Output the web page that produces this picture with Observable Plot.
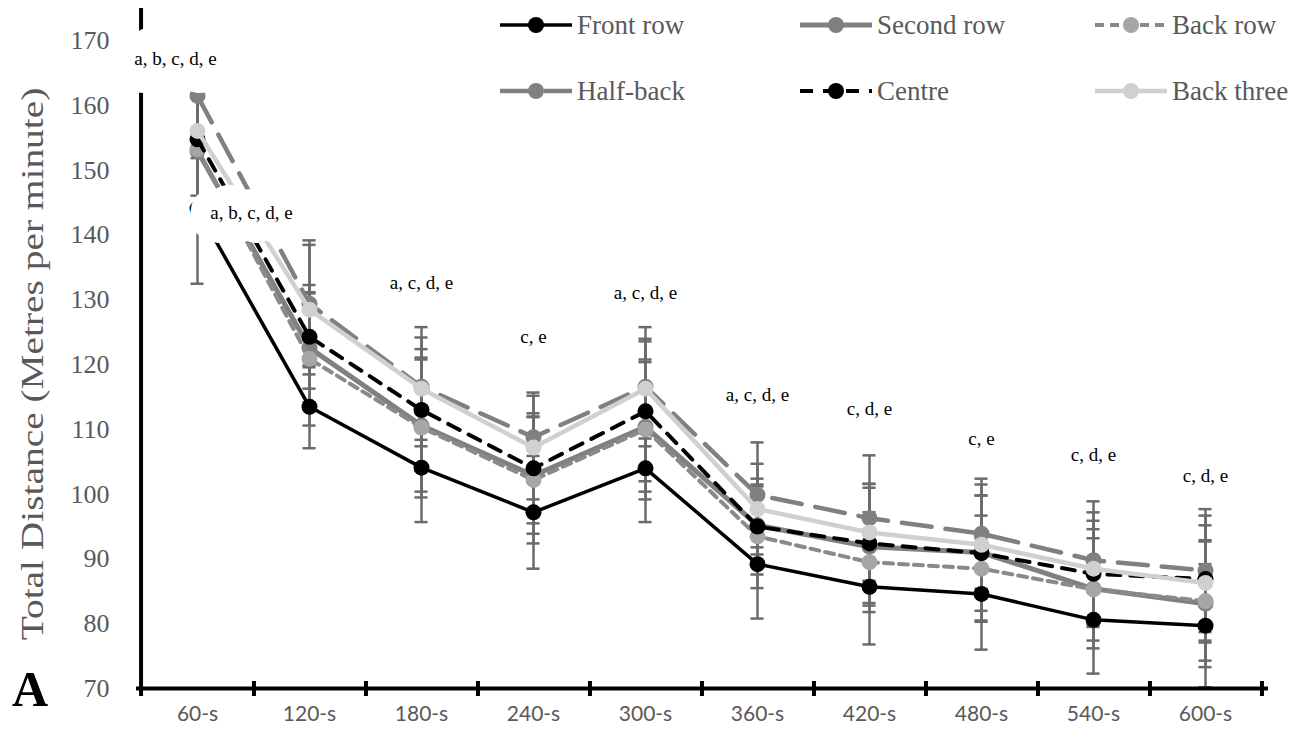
<!DOCTYPE html>
<html>
<head>
<meta charset="utf-8">
<script src="https://cdn.jsdelivr.net/npm/d3@7"></script>
<script src="https://cdn.jsdelivr.net/npm/@observablehq/plot@0.6"></script>
<style>
  body { margin: 0; background: #fff; }
  #wrap { position: relative; width: 1300px; height: 736px; overflow: hidden; background: #fff; }
  #chart { position: absolute; left: 0; top: 0; }
  .lg { position: absolute; display: flex; align-items: center; font-family: "Liberation Serif", serif; font-size: 27px; color: #595959; white-space: nowrap; }
  .lg svg { margin-right: 5px; }
  #ytitle { position: absolute; left: 33px; top: 364px; transform: translate(-50%, -50%) rotate(-90deg) scaleX(1.27); font-family: "Liberation Serif", serif; font-size: 31px; color: #595959; white-space: nowrap; }
  #panel { position: absolute; left: 12px; top: 664px; font-family: "Liberation Serif", serif; font-weight: bold; font-size: 50px; line-height: 1; color: #000; }
</style>
</head>
<body>
<div id="wrap">
  <div id="chart"></div>
  <div id="ytitle">Total Distance (Metres per minute)</div>
  <div id="panel">A</div>
</div>
<script>
// ---------- data ----------
const categories = ["60-s","120-s","180-s","240-s","300-s","360-s","420-s","480-s","540-s","600-s"];
const yTicks = [70,80,90,100,110,120,130,140,150,160,170];

const frontRow     = [144.1,113.5,104.1, 97.2,104.0, 89.2, 85.7, 84.6, 80.6, 79.7];
const frontRowSD   = [ 11.6,  6.4,  8.4,  8.7,  8.3,  8.4,  8.9,  8.6,  8.3,  9.5];
const secondRow    = [153.0,122.6,110.6,102.9,110.4, 95.2, 91.9, 91.0, 85.4, 83.1];
const secondRowSD  = [  9.0,  8.4, 10.2,  9.0, 10.0,  6.0,  9.1, 10.5,  9.2,  9.8];
const backRow      = [153.3,120.9,110.3,102.2,110.0, 93.5, 89.5, 88.5, 85.3, 83.5];
const backRowSD    = [ 10.0, 10.3, 10.8,  9.8, 10.8,  8.0,  7.7,  8.2,  7.9,  9.2];
const halfBack     = [161.5,129.4,116.6,108.8,116.6, 99.9, 96.3, 93.9, 89.8, 88.2];
const halfBackSD   = [  9.6,  9.8,  9.2,  6.9,  9.2,  8.1,  9.7,  8.5,  9.1,  9.5];
const centre       = [154.8,124.3,113.0,104.0,112.8, 95.0, 92.4, 90.9, 87.7, 86.9];
const centreSD     = [ 10.5,  8.0,  9.4,  8.5, 10.8,  7.4,  9.2,  8.9,  8.2,  9.8];
const backThree    = [156.1,128.5,116.3,107.2,116.3, 97.7, 94.1, 92.2, 88.5, 86.3];
const backThreeSD  = [ 10.0, 10.0,  7.9,  8.0,  7.7,  7.0,  7.5,  7.6,  8.7,  8.9];

const seriesNames = ["Front row","Second row","Back row","Half-back","Centre","Back three"];

// significance annotations
const labelCats  = ["60-s","120-s","180-s","240-s","300-s","360-s","420-s","480-s","540-s","600-s"];
const labelTexts = ["a, b, c, d, e","a, b, c, d, e","a, c, d, e","c, e","a, c, d, e","a, c, d, e","c, d, e","c, e","c, d, e","c, d, e"];
const labelY     = [167.2, 143.5, 132.7, 124.3, 131.1, 115.4, 113.1, 108.6, 106.0, 102.9];

// ---------- styles ----------
const styles = {
  "Front row":  {stroke: "#000000", width: 3.5, dash: null,    fill: "#000000"},
  "Second row": {stroke: "#808080", width: 5,   dash: null,    fill: "#808080"},
  "Back row":   {stroke: "#8a8a8a", width: 4,   dash: "9,6",   fill: "#a6a6a6"},
  "Half-back":  {stroke: "#808080", width: 4.5, dash: "30,14", fill: "#808080"},
  "Centre":     {stroke: "#000000", width: 4,   dash: "13,10", fill: "#000000"},
  "Back three": {stroke: "#d0d0d0", width: 4.5, dash: null,    fill: "#d0d0d0"}
};
const errColor = "#6b6b6b";

// ---------- build table ----------
const seriesValues = [frontRow, secondRow, backRow, halfBack, centre, backThree];
const seriesSD = [frontRowSD, secondRowSD, backRowSD, halfBackSD, centreSD, backThreeSD];
const rows = seriesNames.flatMap((name, s) =>
  categories.map((c, i) => ({series: name, cat: c, v: seriesValues[s][i], sd: seriesSD[s][i]})));
const labels = labelCats.map((c, i) => ({cat: c, y: labelY[i], text: labelTexts[i]}));

const W = 1300, H = 736, mL = 136, mR = 35, mT = 8, mB = 48;
const bw = (W - mL - mR) / categories.length;
const capInset = (bw - 14) / 2;
const serif = "Liberation Serif";

const marks = [
  Plot.ruleX(rows, {x: "cat", y1: d => d.v - d.sd, y2: d => d.v + d.sd, stroke: errColor, strokeWidth: 2.5}),
  Plot.tickY(rows, {x: "cat", y: d => d.v + d.sd, stroke: errColor, strokeWidth: 2.5, insetLeft: capInset, insetRight: capInset}),
  Plot.tickY(rows, {x: "cat", y: d => d.v - d.sd, stroke: errColor, strokeWidth: 2.5, insetLeft: capInset, insetRight: capInset})
];
for (const name of seriesNames) {
  const st = styles[name];
  const data = rows.filter(d => d.series === name);
  marks.push(Plot.line(data, {x: "cat", y: "v", stroke: st.stroke, strokeWidth: st.width, strokeDasharray: st.dash, strokeLinejoin: "round"}));
  marks.push(Plot.dot(data, {x: "cat", y: "v", r: 8, fill: st.fill, stroke: "none"}));
}
marks.push(
  Plot.ruleY([yTicks[0]], {stroke: "#000", strokeWidth: 4, insetRight: -3}),
  Plot.axisX({tickFormat: () => "", tickSize: 15, dy: -7, dx: bw / 2, strokeWidth: 4, color: "#000", label: null}),
  Plot.ruleX([categories[0]], {x: d => d, dx: -bw / 2, stroke: "#000", strokeWidth: 4, insetBottom: -8}),
  Plot.text(labels.slice(2), {x: "cat", y: "y", text: "text", fontSize: 19, fontFamily: serif, fill: "#000"}),
  Plot.text(labels.slice(0, 1), {x: "cat", y: "y", text: "text", dx: -22, fontSize: 19, fontFamily: serif, fill: "#000", stroke: "#fff", strokeWidth: 50, strokeLinejoin: "round"}),
  Plot.text(labels.slice(1, 2), {x: "cat", y: "y", text: "text", dx: -58, fontSize: 19, fontFamily: serif, fill: "#000", stroke: "#fff", strokeWidth: 42, strokeLinejoin: "round"}),
  Plot.text(categories, {x: d => d, text: d => d, frameAnchor: "bottom", dy: 32, fontSize: 21, fontFamily: "Lato", fill: "#595959"}),
  Plot.text(yTicks, {y: d => d, text: d => String(d), frameAnchor: "left", dx: -27, textAnchor: "end", fontSize: 26, fontFamily: serif, fill: "#595959"})
);

const chart = Plot.plot({
  width: W, height: H,
  marginLeft: mL, marginRight: mR, marginTop: mT, marginBottom: mB,
  style: {background: "#fff", overflow: "visible", fontFamily: serif},
  x: {type: "band", domain: categories, padding: 0, label: null},
  y: {domain: [70, 175], label: null, axis: null},
  marks
});
document.getElementById("chart").appendChild(chart);

// ---------- legend ----------
const legendSlots = [[500, 25], [800, 25], [1095, 25], [500, 91], [800, 91], [1095, 91]];
const wrap = document.getElementById("wrap");
seriesNames.forEach((name, i) => {
  const st = styles[name];
  const [lx, ly] = legendSlots[i];
  const div = document.createElement("div");
  div.className = "lg";
  div.style.left = lx + "px";
  div.style.top = (ly - 15) + "px";
  div.style.height = "30px";
  div.innerHTML =
    `<svg width="72" height="30"><line x1="0" x2="72" y1="15" y2="15" stroke="${st.stroke}" stroke-width="${st.width}"${st.dash ? ` stroke-dasharray="${st.dash}"` : ""}/><circle cx="36" cy="15" r="8" fill="${st.fill}"/></svg><span>${name}</span>`;
  wrap.appendChild(div);
});
</script>
</body>
</html>
